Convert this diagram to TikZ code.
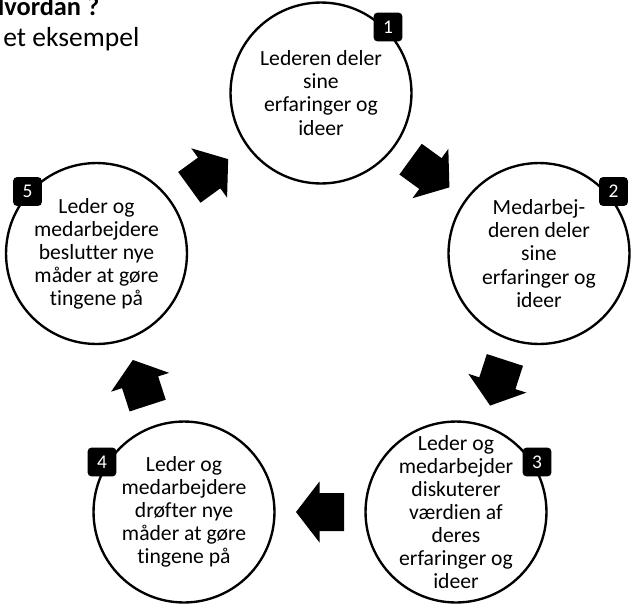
\documentclass[tikz,border=0pt]{standalone}
\usepackage{fontspec}
\setmainfont{Carlito}[Ligatures={NoCommon}]
\usetikzlibrary{calc}
\begin{document}
\begin{tikzpicture}[x=0.85pt,y=-0.85pt,
  stage/.style={circle,draw=black,line width=2pt,minimum size=153.8pt,inner sep=0pt,fill=white},
  stagetext/.style={align=center,font=\fontsize{18.4}{19.6}\selectfont,inner sep=0pt},
  badge/.style={fill=black,rounded corners=3.5pt,minimum size=24.6pt,inner sep=0pt,text=white,font=\fontsize{16.5}{16.5}\selectfont},
  blockarrow/.pic={\fill[black] (-24,-19) -- (0.5,-19) -- (0.5,-30.5) -- (24,0) -- (0.5,30.5) -- (0.5,19) -- (-24,19) -- cycle;},
  titlefont/.style={inner sep=0pt,font=\fontsize{23.4}{28}\selectfont}
]
\useasboundingbox[fill=white] (0,0) rectangle (635,607);

% title (cropped at the left edge)
\node[titlefont,anchor=base east,font=\fontsize{22.4}{27}\selectfont\bfseries] (title1) at (99.5,15.5) {Hvordan ?};
\node[titlefont,anchor=base east] (title2) at (139.5,46.5) {– et eksempel};

% circles
\node[stage] (c1) at (321,93) {};
\node[stage] (c2) at (539,253.5) {};
\node[stage] (c3) at (456,512) {};
\node[stage] (c4) at (184,512) {};
\node[stage] (c5) at (96.5,253.5) {};

% texts
\node[stagetext] (t1) at (c1) {Lederen deler\\sine\\erfaringer og\\ideer};
\node[stagetext] (t2) at (c2) {Medarbej-\\deren deler\\sine\\erfaringer og\\ideer};
\node[stagetext] (t3) at (c3) {Leder og\\medarbejder\\diskuterer\\værdien af\\deres\\erfaringer og\\ideer};
\node[stagetext] (t4) at (c4) {Leder og\\medarbejdere\\drøfter nye\\måder at gøre\\tingene på};
\node[stagetext] (t5) at (c5) {Leder og\\medarbejdere\\beslutter nye\\måder at gøre\\tingene på};

% badges
\node[badge] (b1) at (388,27) {1};
\node[badge] (b2) at (613.5,191.5) {2};
\node[badge] (b3) at (537,462) {3};
\node[badge] (b4) at (102,462) {4};
\node[badge] (b5) at (27.5,191.5) {5};

% block arrows between the stages
\pic[rotate=-36] at ($(c1)!0.5!(c2)$) {blockarrow};
\pic[rotate=-108] at ($(c2)!0.5!(c3)$) {blockarrow};
\pic[rotate=180] at ($(c3)!0.5!(c4)$) {blockarrow};
\pic[rotate=108] at ($(c4)!0.5!(c5)$) {blockarrow};
\pic[rotate=36] at ($(c5)!0.5!(c1)$) {blockarrow};
\end{tikzpicture}
\end{document}
